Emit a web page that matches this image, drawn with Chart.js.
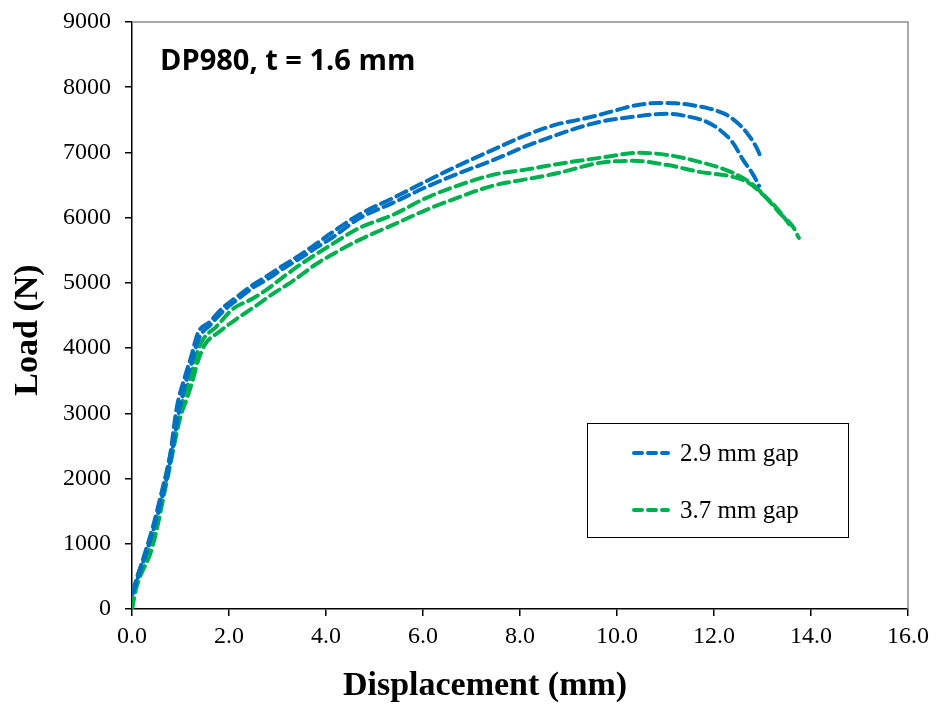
<!DOCTYPE html>
<html>
<head>
<meta charset="utf-8">
<script src="https://cdn.jsdelivr.net/npm/chart.js@4.4.1/dist/chart.umd.min.js"></script>
<style>
  html, body { margin: 0; padding: 0; background: #fff; }
  #wrap { width: 936px; height: 704px; position: relative; }
</style>
</head>
<body>
<div id="wrap"><canvas id="loadChart"></canvas></div>
<script>
// load-displacement curves, DP980 t = 1.6 mm
const gap29aX = [0.01, 0.2, 0.43, 0.62, 0.78, 0.92, 1.09, 1.22, 1.36, 1.6, 1.87, 2.16, 2.49, 2.77, 3.1, 3.45, 3.8, 4.14, 4.69, 5.38, 6.07, 6.76, 7.44, 8.14, 8.76, 9.2, 9.64, 10.0, 10.33, 10.88, 11.2, 11.5, 11.85, 12.05, 12.26, 12.53, 12.74, 12.88, 12.98];
const gap29aY = [265, 700, 1258, 1820, 2331, 3078, 3558, 3870, 4233, 4400, 4617, 4785, 4969, 5100, 5260, 5420, 5600, 5780, 6050, 6300, 6560, 6810, 7040, 7270, 7430, 7500, 7577, 7650, 7715, 7760, 7755, 7730, 7684, 7640, 7577, 7423, 7239, 7070, 6902];

const gap29bX = [0.01, 0.2, 0.45, 0.65, 0.8, 0.95, 1.1, 1.24, 1.38, 1.62, 1.9, 2.2, 2.5, 2.8, 3.1, 3.45, 3.8, 4.14, 4.69, 5.38, 6.07, 6.76, 7.44, 8.14, 8.76, 9.2, 9.64, 10.33, 11.02, 11.5, 11.85, 12.12, 12.39, 12.6, 12.81, 12.93];
const gap29bY = [230, 650, 1230, 1800, 2300, 2950, 3450, 3800, 4150, 4360, 4580, 4760, 4930, 5060, 5210, 5370, 5540, 5700, 5990, 6227, 6472, 6687, 6880, 7100, 7270, 7380, 7469, 7546, 7592, 7546, 7469, 7346, 7147, 6886, 6656, 6488];

const gap37aX = [0, 0.06, 0.4, 0.71, 0.98, 1.09, 1.22, 1.33, 1.46, 1.74, 2.08, 2.49, 2.77, 3.1, 3.45, 4.14, 4.69, 5.38, 6.07, 6.76, 7.44, 8.14, 8.76, 9.64, 10.47, 11.02, 11.7, 12.39, 12.81, 13.08, 13.35, 13.63, 13.75];
const gap37aY = [0, 337, 1012, 2086, 3006, 3300, 3600, 3900, 4126, 4330, 4600, 4760, 4893, 5080, 5270, 5600, 5844, 6043, 6304, 6503, 6656, 6740, 6820, 6917, 6994, 6963, 6856, 6687, 6503, 6304, 6074, 5859, 5690];

const gap37bX = [0, 0.08, 0.42, 0.73, 1.0, 1.12, 1.25, 1.36, 1.5, 1.8, 2.16, 2.5, 2.9, 3.3, 3.8, 4.14, 4.69, 5.38, 6.07, 6.76, 7.44, 8.14, 8.76, 9.64, 10.33, 11.02, 11.7, 12.39, 12.7, 13.0, 13.3, 13.55];
const gap37bY = [0, 300, 950, 2000, 2950, 3200, 3500, 3800, 4050, 4250, 4450, 4620, 4830, 5020, 5290, 5440, 5660, 5890, 6120, 6319, 6490, 6590, 6680, 6840, 6871, 6810, 6702, 6626, 6540, 6360, 6140, 5900];

const seriesLabels = ['2.9 mm gap', '3.7 mm gap'];
const seriesColors = ['#0070C0', '#00B050'];
const chartTitle = 'DP980, t = 1.6 mm';
const xTitle = 'Displacement (mm)';
const yTitle = 'Load (N)';

const toPoints = (xs, ys) => xs.map((x, i) => ({ x: x, y: ys[i] }));

const lineStyle = (color) => ({
    borderColor: color,
    backgroundColor: color,
    borderWidth: 4,
    borderDash: [11, 6],
    borderCapStyle: 'round',
    pointRadius: 0,
    fill: false,
    cubicInterpolationMode: 'monotone'
});

// frame, titles and the boxed legend
const decorations = {
    id: 'decorations',
    beforeDatasetsDraw(chart) {
        const { ctx, chartArea: a } = chart;
        ctx.save();
        ctx.strokeStyle = '#8c8c8c';
        ctx.lineWidth = 1.5;
        ctx.beginPath();
        ctx.moveTo(a.left, a.top);
        ctx.lineTo(a.right, a.top);
        ctx.lineTo(a.right, a.bottom);
        ctx.stroke();
        ctx.restore();
    },
    afterDraw(chart) {
        const { ctx } = chart;
        ctx.save();
        ctx.fillStyle = '#000';
        ctx.textBaseline = 'middle';

        ctx.font = 'bold 29px "Open Sans"';
        ctx.fillText(chartTitle, 160, 62);

        // axis titles
        ctx.font = 'bold 34px "Liberation Serif"';
        ctx.textAlign = 'center';
        ctx.fillText(xTitle, 485, 686);
        ctx.save();
        ctx.translate(28, 330);
        ctx.rotate(-Math.PI / 2);
        ctx.fillText(yTitle, 0, 0);
        ctx.restore();
        ctx.textAlign = 'left';

        // legend box
        const bx = 587, by = 423, bw = 261, bh = 114;
        ctx.strokeStyle = '#000';
        ctx.lineWidth = 1;
        ctx.strokeRect(bx + 0.5, by + 0.5, bw, bh);
        ctx.font = '25px "Liberation Serif"';
        seriesLabels.forEach((label, i) => {
            const y = 453 + i * 57;
            ctx.strokeStyle = seriesColors[i];
            ctx.lineWidth = 4;
            ctx.lineCap = 'round';
            ctx.setLineDash([8, 6]);
            ctx.beginPath();
            ctx.moveTo(634, y);
            ctx.lineTo(668, y);
            ctx.stroke();
            ctx.setLineDash([]);
            ctx.fillStyle = '#000';
            ctx.fillText(label, 680, y + 1);
        });
        ctx.restore();
    }
};

new Chart(document.getElementById('loadChart'), {
    type: 'line',
    data: {
        datasets: [
            Object.assign({ label: seriesLabels[0], data: toPoints(gap29aX, gap29aY) }, lineStyle(seriesColors[0])),
            Object.assign({ label: seriesLabels[0], data: toPoints(gap29bX, gap29bY) }, lineStyle(seriesColors[0])),
            Object.assign({ label: seriesLabels[1], data: toPoints(gap37aX, gap37aY) }, lineStyle(seriesColors[1])),
            Object.assign({ label: seriesLabels[1], data: toPoints(gap37bX, gap37bY) }, lineStyle(seriesColors[1]))
        ]
    },
    options: {
        responsive: true,
        maintainAspectRatio: false,
        animation: false,
        layout: { padding: { top: 22, right: 28, left: 0, bottom: 0 } },
        plugins: {
            legend: { display: false },
            tooltip: { enabled: false }
        },
        scales: {
            x: {
                type: 'linear',
                min: 0,
                max: 16,
                afterFit: (s) => { s.height = 95; },
                border: { color: '#000', width: 1.5 },
                grid: { drawOnChartArea: false, drawTicks: true, tickLength: 7, color: '#000', lineWidth: 1.5 },
                ticks: {
                    stepSize: 2,
                    padding: 6,
                    color: '#000',
                    font: { family: '"Liberation Serif"', size: 24 },
                    callback: (v) => v.toFixed(1)
                }
            },
            y: {
                min: 0,
                max: 9000,
                afterFit: (s) => { s.width = 132; s.paddingTop = 0; s.paddingBottom = 0; },
                border: { color: '#000', width: 1.5 },
                grid: { drawOnChartArea: false, drawTicks: true, tickLength: 7, color: '#000', lineWidth: 1.5 },
                ticks: {
                    stepSize: 1000,
                    padding: 14,
                    color: '#000',
                    font: { family: '"Liberation Serif"', size: 24 },
                    callback: (v) => String(v)
                }
            }
        }
    },
    plugins: [decorations]
});
</script>
</body>
</html>
